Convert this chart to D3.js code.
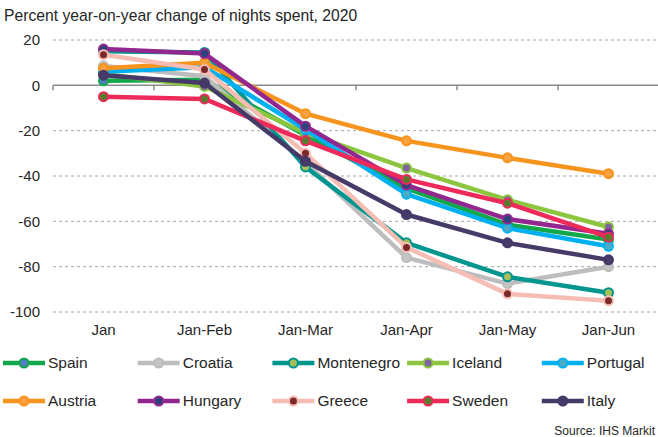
<!DOCTYPE html>
<html>
<head>
<meta charset="utf-8">
<script src="https://cdn.jsdelivr.net/npm/d3@7"></script>
<style>
  body { margin: 0; background: #fff; }
  text { font-family: Arial, "Liberation Sans", sans-serif; fill: #262626; }
</style>
</head>
<body>
<div id="chart"></div>
<script>
// data
var months = ["Jan", "Jan-Feb", "Jan-Mar", "Jan-Apr", "Jan-May", "Jan-Jun"];
var yTicks = [20, 0, -20, -40, -60, -80, -100];
var countries = ["Spain", "Croatia", "Montenegro", "Iceland", "Portugal", "Austria", "Hungary", "Greece", "Sweden", "Italy"];

var spain      = [2, 2.5, -22, -45.5, -61.5, -68];
var croatia    = [8.5, 4, -34, -76, -87.5, -80];
var montenegro = [15, 14.5, -36, -69.5, -84.5, -91.5];
var iceland    = [5, -0.5, -21, -36.5, -50.5, -62.5];
var portugal   = [6, 8, -19.5, -48, -63, -71];
var austria    = [7.5, 10, -12.5, -24.5, -32, -39];
var hungary    = [16, 14, -18, -44, -59, -65.5];
var greece     = [13.5, 7, -30, -71.5, -92, -95];
var sweden     = [-5, -6, -24.5, -41.5, -52, -67];
var italy      = [4.5, 1, -33.5, -57, -69.5, -77];

var values = [spain, croatia, montenegro, iceland, portugal, austria, hungary, greece, sweden, italy];

// line colour / marker colour
var lineColors   = ["#12a84a", "#bdbdbd", "#00958f", "#8cc63f", "#00b0f0", "#f7941d", "#92278f", "#f6bdb4", "#ee2a5a", "#463a68"];
var markerColors = ["#4f7fbf", "#c4c4c4", "#a7bf5a", "#8064a2", "#4bacc6", "#f9a040", "#2a437a", "#7b2a2a", "#5a7a2e", "#463a68"];

var series = countries.map(function(c, i) {
  return { name: c, line: lineColors[i], marker: markerColors[i],
           pts: values[i].map(function(v, j) { return { m: months[j], v: v } }) }
});

var width = 658, height = 437;

var svg = d3.select("#chart").append("svg")
  .attr("width", width)
  .attr("height", height);

var x = d3.scaleBand().domain(months).range([53, 659]).padding(0);
var y = d3.scaleLinear().domain([-100, 20]).range([312, 40]);

// title
svg.append("text")
  .attr("x", 4).attr("y", 21)
  .style("font-size", "15.7px")
  .text("Percent year-on-year change of nights spent, 2020");

// gridlines
svg.append("g").selectAll("line")
  .data(yTicks.filter(function(d) { return d !== 0 }))
  .enter().append("line")
    .attr("x1", 53).attr("x2", 656)
    .attr("y1", function(d) { return y(d) })
    .attr("y2", function(d) { return y(d) })
    .attr("stroke", "#a6a6a6")
    .attr("stroke-width", 1)
    .attr("stroke-dasharray", "3,3");

// y labels
svg.append("g").selectAll("text")
  .data(yTicks)
  .enter().append("text")
    .attr("x", 40)
    .attr("y", function(d) { return y(d) })
    .attr("dy", "0.35em")
    .attr("text-anchor", "end")
    .style("font-size", "15px")
    .text(function(d) { return d });

// zero axis with ticks at band edges
svg.append("line")
  .attr("x1", 53).attr("x2", 659)
  .attr("y1", y(0)).attr("y2", y(0))
  .attr("stroke", "#8a8a8a").attr("stroke-width", 1.5);
var bounds = months.map(function(m) { return x(m) }).concat([x(months[5]) + x.bandwidth()]);
svg.append("g").selectAll("line")
  .data(bounds)
  .enter().append("line")
    .attr("x1", function(d) { return d }).attr("x2", function(d) { return d })
    .attr("y1", y(0)).attr("y2", y(0) + 5)
    .attr("stroke", "#8a8a8a").attr("stroke-width", 1.5);

// x labels
svg.append("g").selectAll("text")
  .data(months)
  .enter().append("text")
    .attr("x", function(d) { return x(d) + x.bandwidth() / 2 })
    .attr("y", 335)
    .attr("text-anchor", "middle")
    .style("font-size", "15px")
    .text(function(d) { return d });

// lines + markers
var line = d3.line()
  .x(function(d) { return x(d.m) + x.bandwidth() / 2 })
  .y(function(d) { return y(d.v) });

var gS = svg.append("g").selectAll("g")
  .data(series)
  .enter().append("g");

gS.append("path")
  .attr("d", function(d) { return line(d.pts) })
  .attr("fill", "none")
  .attr("stroke", function(d) { return d.line })
  .attr("stroke-width", 4.5)
  .attr("stroke-linejoin", "round");

gS.selectAll("circle")
  .data(function(d) { return d.pts.map(function(p) { return { p: p, s: d } }) })
  .enter().append("circle")
    .attr("cx", function(d) { return x(d.p.m) + x.bandwidth() / 2 })
    .attr("cy", function(d) { return y(d.p.v) })
    .attr("r", 4.5)
    .attr("fill", function(d) { return d.s.marker })
    .attr("stroke", function(d) { return d.s.line })
    .attr("stroke-width", 2);

// legend
var leg = svg.append("g").selectAll("g")
  .data(series)
  .enter().append("g")
    .attr("transform", function(d, i) {
      var col = i % 5, row = Math.floor(i / 5);
      return "translate(" + (3 + col * 134.7) + "," + (363 + row * 38) + ")";
    });

leg.append("line")
  .attr("x1", 0).attr("x2", 42)
  .attr("stroke", function(d) { return d.line })
  .attr("stroke-width", 4.5);
leg.append("circle")
  .attr("cx", 21).attr("r", 4.5)
  .attr("fill", function(d) { return d.marker })
  .attr("stroke", function(d) { return d.line })
  .attr("stroke-width", 2);
leg.append("text")
  .attr("x", 45).attr("dy", "0.35em")
  .style("font-size", "15.5px")
  .text(function(d) { return d.name });

// source
svg.append("text")
  .attr("x", 655).attr("y", 435)
  .attr("text-anchor", "end")
  .style("font-size", "12px")
  .text("Source: IHS Markit");
</script>
</body>
</html>
